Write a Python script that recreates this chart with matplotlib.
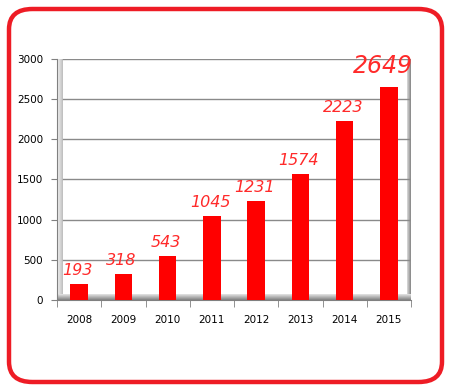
import matplotlib
matplotlib.use("Agg")
import matplotlib.pyplot as plt
from matplotlib.patches import FancyBboxPatch, Rectangle
import numpy as np

years = ["2008", "2009", "2010", "2011", "2012", "2013", "2014", "2015"]
values = [193, 318, 543, 1045, 1231, 1574, 2223, 2649]
yticks = [0, 500, 1000, 1500, 2000, 2500, 3000]

W, H = 451, 390
fig = plt.figure(figsize=(W / 100, H / 100), dpi=100)
fig.patch.set_facecolor("white")

# rounded red border
border = FancyBboxPatch((9 / W, 8 / H), (442 - 9) / W, (381 - 8) / H,
                        boxstyle="round,pad=0,rounding_size=0.052",
                        transform=fig.transFigure, facecolor="none",
                        edgecolor="#ee1c25", linewidth=3.2)
fig.patches.append(border)

ax = fig.add_axes([57 / W, (390 - 300) / H, 354 / W, 241 / H])
x = np.arange(len(years))
ax.set_xlim(-0.5, len(years) - 0.5)
ax.set_ylim(0, 3000)

# 3D-style walls
wall_w = 6 / 354  # axes fraction
floor_h = 6 / 241
n = 12
for i in range(n):
    c = 0.96 - 0.22 * i / n
    ax.add_patch(Rectangle((i * wall_w / n, 0), wall_w / n, 1,
                           transform=ax.transAxes, facecolor=(c, c, c),
                           edgecolor="none", zorder=0.5))
for i in range(n):
    c = 0.50 + 0.40 * i / n
    ax.add_patch(Rectangle((0, i * floor_h / n), 1, floor_h / n,
                           transform=ax.transAxes, facecolor=(c, c, c),
                           edgecolor="none", zorder=0.6))
for i in range(n):
    c = 0.85 - 0.35 * i / n
    ax.add_patch(Rectangle((1 - 4 / 354 + i * (4 / 354) / n, 0), (4 / 354) / n, 1,
                           transform=ax.transAxes, facecolor=(c, c, c),
                           edgecolor="none", zorder=0.5, clip_on=False))

# gridlines
for yt in yticks[1:]:
    ax.plot([wall_w, 1], [yt / 3000, yt / 3000], transform=ax.transAxes,
            color="#8a8a8a", lw=1.0, zorder=1)

ax.bar(x, values, width=0.4, color="#ff0000", zorder=3)

for xi, v in zip(x, values):
    big = v == max(values)
    ax.text(xi - (0.13 if big else 0.04), v + (110 if big else 75), str(v),
            color="#ff2a2a",
            fontsize=17 if big else 11.5, style="italic",
            family="DejaVu Sans",
            ha="center", va="bottom", zorder=4, clip_on=False)

for s in ["top", "right"]:
    ax.spines[s].set_visible(False)
ax.spines["left"].set_color("#808080")
ax.spines["bottom"].set_color("#808080")

ax.set_yticks(yticks)
ax.set_yticklabels([str(t) for t in yticks], fontsize=7.5)
ax.tick_params(axis="y", length=4, color="#808080", pad=6)

ax.set_xticks(x)
ax.set_xticklabels(years, fontsize=7.5)
ax.tick_params(axis="x", length=0, pad=11)
ax.set_xticks(np.arange(-0.5, len(years)), minor=True)
ax.tick_params(axis="x", which="minor", length=5, color="#808080")

fig.savefig("out.png", dpi=100)
